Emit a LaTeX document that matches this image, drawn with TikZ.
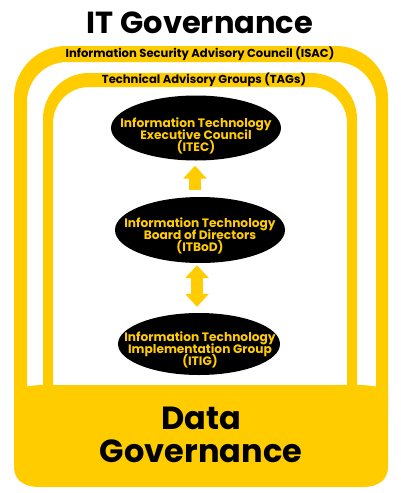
\documentclass[tikz,border=0pt]{standalone}
\usepackage{fontspec}
\setmainfont{Poppins}
\usetikzlibrary{arrows.meta,shapes.geometric}
\definecolor{gyellow}{HTML}{FFCC00}
\newcommand\tightlines{\lineskiplimit=-8pt\relax}
\begin{document}
\begin{tikzpicture}[x=1pt,y=-1pt,
  ell/.style={ellipse,fill=black,inner sep=0pt},
  elltext/.style={text=gyellow,font=\bfseries\fontsize{12.2}{12}\selectfont\tightlines,align=center,inner sep=0pt},
  bandtext/.style={text=black,font=\bfseries\fontsize{11.6}{12}\selectfont,inner sep=0pt},
  bigtext/.style={text=black,font=\bfseries\fontsize{32}{33}\selectfont\tightlines,align=center,inner sep=0pt},
  barrow/.style={draw=gyellow,line width=12pt,-{Triangle[width=23pt,length=13pt]}},
  dbarrow/.style={draw=gyellow,line width=12pt,{Triangle[width=23pt,length=13pt]}-{Triangle[width=23pt,length=13pt]}}]
\useasboundingbox (0,0) rectangle (400,493);
\fill[white] (0,0) rectangle (400,493);
% outer arch (ISAC)
\fill[gyellow,even odd rule,rounded corners=52pt] (14,46) rectangle (388,460)
  [rounded corners=40pt] (27,62) rectangle (376,450);
% inner arch (TAGs)
\fill[gyellow,even odd rule,rounded corners=46pt] (43,73) rectangle (357,460)
  [rounded corners=36pt] (53,87) rectangle (347,450);
% data governance base
\fill[gyellow] (14,395) .. controls (14,387) and (30,385) .. (46,385) -- (356,385)
  .. controls (372,385) and (388,387) .. (388,395) -- (388,467)
  .. controls (388,480) and (378,487) .. (363,487) -- (39,487)
  .. controls (24,487) and (14,480) .. (14,467) -- cycle;
% texts
\node[font=\bfseries\fontsize{30.5}{32}\selectfont,inner sep=0pt] (title) at (200,23) {IT Governance};
\node[bandtext] (isac) at (200,54) {Information Security Advisory Council (ISAC)};
\node[bandtext] (tags) at (204,80) {Technical Advisory Groups (TAGs)};
\node[bigtext] (dg) at (201,435) {Data\\Governance};
% ellipses
\node[ell,minimum width=170pt,minimum height=65pt] (itec) at (196,128) {};
\node[elltext] (itect) at (196,135.5) {Information Technology\\Executive Council\\(ITEC)};
\node[ell,minimum width=170pt,minimum height=66pt] (itbod) at (200,230) {};
\node[elltext] (itbodt) at (200,236) {Information Technology\\Board of Directors\\(ITBoD)};
\node[ell,minimum width=162pt,minimum height=62pt] (itig) at (199,344) {};
\node[elltext] (itigt) at (200,350) {Information Technology\\Implementation Group\\(ITIG)};
% arrows
\draw[barrow] ([xshift=-5pt,yshift=7pt]itbod.north) -- ([xshift=-1pt,yshift=-5pt]itec.south);
\draw[dbarrow] ([xshift=-3pt,yshift=-2pt]itbod.south) -- ([xshift=-2pt,yshift=6pt]itig.north);
\end{tikzpicture}
\end{document}
